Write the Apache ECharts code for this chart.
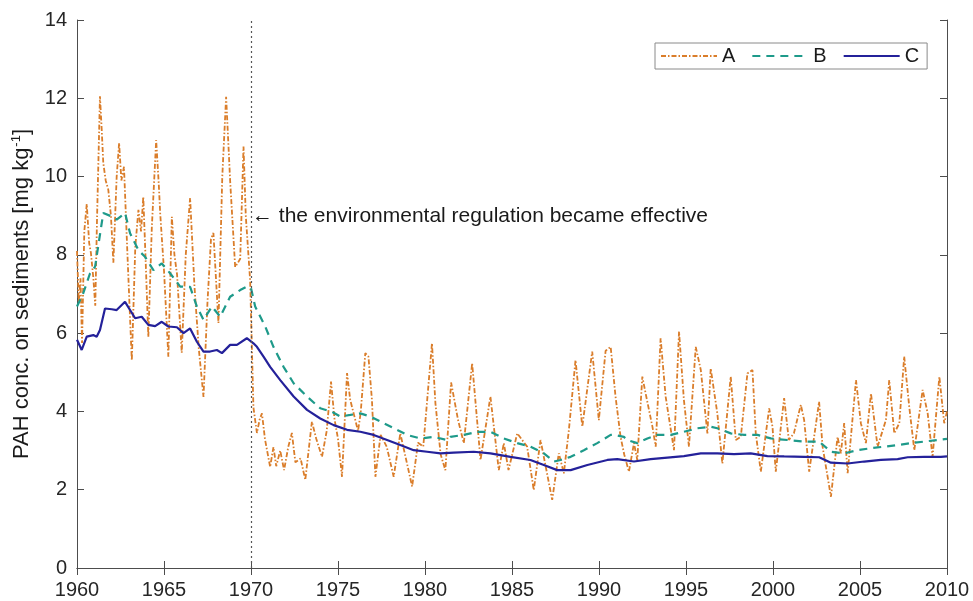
<!DOCTYPE html>
<html><head><meta charset="utf-8">
<script src="https://cdn.jsdelivr.net/npm/echarts@6/dist/echarts.min.js"></script>
<style>html,body{margin:0;padding:0;background:#fff}#c{width:973px;height:601px}</style>
</head><body><div id="c"></div>
<script>
// Series A (orange, dash-dot)
const aYears = [1960.00,1960.10,1960.20,1960.29,1960.42,1960.56,1960.70,1960.80,1960.94,1961.05,1961.15,1961.32,1961.42,1961.51,1961.65,1961.80,1961.95,1962.09,1962.28,1962.42,1962.55,1962.70,1962.90,1963.15,1963.35,1963.53,1963.68,1963.81,1963.95,1964.10,1964.30,1964.55,1964.70,1964.78,1965.00,1965.25,1965.45,1965.60,1965.75,1966.02,1966.25,1966.50,1966.75,1967.00,1967.27,1967.50,1967.70,1967.84,1968.13,1968.35,1968.57,1968.80,1969.09,1969.25,1969.38,1969.57,1969.70,1969.95,1970.14,1970.34,1970.50,1970.63,1970.80,1971.10,1971.29,1971.45,1971.68,1971.90,1972.14,1972.35,1972.55,1972.85,1973.12,1973.50,1973.75,1974.08,1974.35,1974.60,1974.80,1975.00,1975.23,1975.52,1975.70,1975.90,1976.15,1976.30,1976.57,1976.75,1976.95,1977.15,1977.45,1977.80,1978.20,1978.58,1978.85,1979.26,1979.60,1979.90,1980.40,1980.60,1980.90,1981.17,1981.50,1981.90,1982.23,1982.71,1983.19,1983.76,1984.24,1984.53,1984.80,1985.30,1985.87,1986.25,1986.64,1987.31,1987.69,1987.98,1988.27,1988.65,1989.04,1989.61,1989.99,1990.38,1990.67,1990.95,1991.24,1991.45,1991.72,1992.01,1992.20,1992.49,1992.68,1993.07,1993.26,1993.54,1993.83,1994.31,1994.60,1994.88,1995.17,1995.56,1995.85,1996.23,1996.42,1996.80,1997.09,1997.57,1997.86,1998.15,1998.53,1998.82,1999.01,1999.30,1999.78,1999.97,2000.16,2000.64,2000.91,2001.20,2001.60,2001.79,2002.08,2002.65,2002.85,2003.33,2003.71,2003.90,2004.09,2004.29,2004.77,2005.05,2005.34,2005.63,2006.01,2006.49,2006.68,2006.97,2007.26,2007.54,2007.83,2008.12,2008.60,2008.89,2009.17,2009.56,2009.84,2010.00];
const aValues = [8.1,6.8,7.4,5.75,8.6,9.3,8.3,8.05,7.4,6.7,8.9,12.05,11.2,10.35,9.9,9.66,9.0,7.8,10.0,10.86,9.9,10.25,8.0,5.3,8.2,9.15,8.6,9.48,7.8,5.9,8.7,10.93,9.8,9.07,7.6,5.4,8.97,8.0,7.5,5.5,8.0,9.45,7.2,5.6,4.37,6.8,8.4,8.56,6.26,10.0,12.04,9.9,7.69,7.8,7.9,10.77,9.0,7.35,4.1,3.45,3.8,3.95,3.3,2.58,3.09,2.6,3.0,2.5,3.09,3.45,2.7,2.8,2.25,3.74,3.3,2.84,3.5,4.76,3.8,3.3,2.33,4.98,4.3,3.95,3.5,3.95,5.49,5.4,4.3,2.33,3.4,3.1,2.33,3.44,2.9,2.08,3.2,3.1,5.74,4.2,2.9,2.5,4.74,3.78,3.19,5.23,2.76,4.38,2.5,3.19,2.5,3.44,3.1,1.99,3.27,1.74,2.93,2.42,3.53,5.31,3.61,5.53,3.78,5.55,5.65,4.38,3.35,2.9,2.46,3.19,2.76,4.89,4.46,3.61,3.1,5.87,4.38,3.01,6.04,4.29,3.1,5.65,5.06,3.44,5.1,3.95,2.67,4.89,3.27,3.35,4.97,5.06,3.44,2.46,4.08,3.61,2.46,4.34,3.27,3.44,4.17,3.78,2.46,4.25,3.1,1.82,3.35,2.93,3.7,2.42,4.8,3.7,3.19,4.46,3.1,3.78,4.8,3.44,3.7,5.4,4.12,3.01,4.55,3.95,2.84,4.89,3.7,4.0];
// Series B (teal, dashed)
const bYears = [1960.00,1960.36,1960.75,1961.04,1961.51,1962.00,1962.28,1962.76,1963.05,1963.53,1963.91,1964.39,1964.87,1965.35,1965.93,1966.50,1966.89,1967.27,1967.75,1968.23,1968.80,1969.38,1969.76,1970.00,1970.24,1970.82,1971.29,1971.87,1972.45,1973.22,1973.98,1974.65,1975.13,1975.71,1976.28,1976.86,1977.62,1978.39,1978.97,1979.74,1980.50,1981.27,1981.46,1982.23,1983.00,1983.76,1984.53,1985.30,1986.06,1986.83,1987.41,1987.79,1988.37,1989.13,1989.90,1990.67,1990.86,1991.43,1991.63,1992.20,1992.78,1993.35,1994.12,1994.88,1995.66,1996.42,1996.80,1997.57,1998.34,1999.11,1999.87,2000.83,2001.79,2002.65,2003.33,2004.09,2004.86,2005.63,2006.39,2007.16,2007.93,2008.69,2009.46,2010.00];
const bValues = [6.68,7.02,7.53,7.7,9.07,8.98,8.9,9.07,8.55,8.12,7.95,7.61,7.78,7.53,7.19,7.18,6.68,6.34,6.68,6.42,6.93,7.1,7.19,7.15,6.68,6.17,5.65,5.14,4.72,4.38,4.08,3.99,3.87,3.91,3.95,3.87,3.7,3.53,3.4,3.31,3.35,3.27,3.35,3.4,3.48,3.48,3.31,3.19,3.1,2.93,2.72,2.76,2.84,3.01,3.19,3.4,3.4,3.35,3.27,3.19,3.31,3.4,3.4,3.48,3.57,3.61,3.57,3.44,3.4,3.4,3.31,3.27,3.23,3.23,2.97,2.93,3.01,3.06,3.1,3.14,3.19,3.23,3.27,3.3];
// Series C (navy, solid)
const cYears = [1960.00,1960.27,1960.56,1960.94,1961.13,1961.32,1961.61,1962.00,1962.28,1962.76,1963.05,1963.34,1963.72,1964.10,1964.49,1964.87,1965.25,1965.74,1966.12,1966.50,1966.89,1967.27,1967.65,1968.04,1968.33,1968.80,1969.19,1969.76,1970.14,1970.34,1970.72,1971.10,1971.68,1972.45,1973.22,1973.98,1974.75,1975.52,1976.28,1977.05,1977.82,1978.58,1979.35,1980.12,1980.89,1981.65,1982.80,1983.76,1984.91,1986.06,1986.83,1987.60,1988.37,1989.33,1990.48,1991.05,1992.01,1992.97,1993.93,1994.88,1995.85,1996.80,1997.76,1998.72,1999.68,2000.64,2001.79,2002.65,2003.33,2004.29,2005.24,2006.20,2007.16,2007.74,2008.69,2009.65,2010.00];
const cValues = [5.83,5.57,5.91,5.95,5.91,6.08,6.63,6.61,6.59,6.8,6.59,6.38,6.42,6.21,6.18,6.29,6.17,6.15,6.0,6.12,5.78,5.53,5.53,5.57,5.49,5.7,5.7,5.87,5.74,5.65,5.4,5.14,4.8,4.38,4.04,3.82,3.65,3.53,3.48,3.4,3.27,3.14,3.01,2.97,2.93,2.95,2.97,2.93,2.84,2.76,2.63,2.5,2.5,2.63,2.76,2.78,2.72,2.78,2.82,2.86,2.93,2.93,2.91,2.93,2.86,2.85,2.84,2.83,2.69,2.67,2.72,2.76,2.78,2.83,2.84,2.84,2.85];
const seriesNames = ['A','B','C'];
const regulationYear = 1970;
const annotationValue = 9;
const annotationText = '\u2190 the environmental regulation became effective';

const pair = (xs, ys) => xs.map((x, i) => [x, ys[i]]);
const FONT = "'Liberation Sans', Arial, sans-serif";
const chart = echarts.init(document.getElementById('c'), null, {renderer: 'canvas'});
const axisCommon = {
  axisLine: {show: true, lineStyle: {color: '#4d4d4d', width: 1}},
  axisTick: {show: true, inside: true, length: 7, lineStyle: {color: '#4d4d4d'}},
  splitLine: {show: false}
};
chart.setOption({
  animation: false,
  backgroundColor: '#ffffff',
  textStyle: {fontFamily: FONT},
  grid: {left: 77, right: 26, top: 20, bottom: 33, containLabel: false},
  legend: {
    data: seriesNames,
    left: 655, top: 43,
    itemWidth: 56, itemHeight: 14, itemGap: 16,
    padding: [3, 8, 3, 5],
    itemStyle: {opacity: 0},
    borderColor: '#8a8a8a', borderWidth: 1, borderRadius: 0,
    backgroundColor: '#ffffff',
    textStyle: {fontSize: 20, color: '#1a1a1a', fontFamily: FONT}
  },
  xAxis: [
    Object.assign({type: 'value', position: 'bottom', min: 1960, max: 2010, interval: 5,
      axisLabel: {fontSize: 20, color: '#262626', margin: 12, fontFamily: FONT, formatter: v => String(v)}}, axisCommon),
    Object.assign({type: 'value', position: 'top', min: 1960, max: 2010, interval: 5,
      axisLabel: {show: false}}, axisCommon)
  ],
  yAxis: [
    Object.assign({type: 'value', position: 'left', min: 0, max: 14, interval: 2,
      name: '{a|PAH conc. on sediments [mg kg}{s|-1}{a|]}',
      nameLocation: 'middle', nameGap: 44, nameRotate: 90,
      nameTextStyle: {color: '#1a1a1a', rich: {
        a: {fontSize: 22, fontFamily: FONT, color: '#1a1a1a', verticalAlign: 'bottom', lineHeight: 26},
        s: {fontSize: 13, fontFamily: FONT, color: '#1a1a1a', verticalAlign: 'bottom', padding: [0, 0, 10, 1], lineHeight: 14}
      }},
      axisLabel: {fontSize: 20, color: '#262626', margin: 10, fontFamily: FONT}}, axisCommon),
    Object.assign({type: 'value', position: 'right', min: 0, max: 14, interval: 2,
      axisLabel: {show: false}}, axisCommon)
  ],
  series: [
    {name: 'A', type: 'line', data: pair(aYears, aValues), showSymbol: false, symbol: 'none',
      color: '#DA7D2A', lineStyle: {color: '#DA7D2A', width: 1.8, type: [5, 2, 1.5, 2]}, z: 2},
    {name: 'B', type: 'line', data: pair(bYears, bValues), showSymbol: false, symbol: 'none',
      color: '#1E9A8A', lineStyle: {color: '#1E9A8A', width: 2.2, type: [8, 6]}, z: 3},
    {name: 'C', type: 'line', data: pair(cYears, cValues), showSymbol: false, symbol: 'none',
      color: '#24219A', lineStyle: {color: '#24219A', width: 2.2, type: 'solid'}, z: 4,
      markLine: {silent: true, symbol: 'none', label: {show: false},
        lineStyle: {color: '#555', width: 1.2, type: [2, 3]},
        data: [{xAxis: regulationYear}]},
      markPoint: {silent: true, symbol: 'circle', symbolSize: 0,
        label: {show: true, position: 'right', distance: 1, formatter: annotationText,
          fontSize: 21, color: '#1a1a1a', fontFamily: FONT},
        data: [{coord: [regulationYear, annotationValue]}]}
    }
  ]
});
</script></body></html>
